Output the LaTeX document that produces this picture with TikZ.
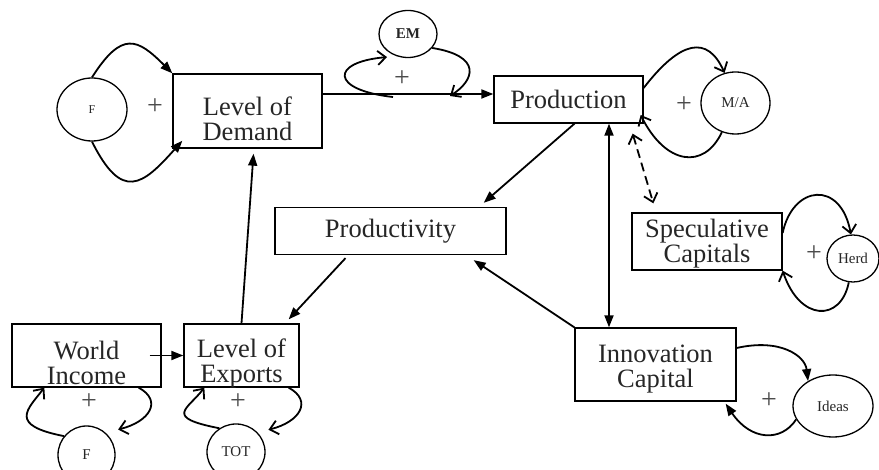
\documentclass[tikz,border=0pt]{standalone}
\usepackage{fontspec}
\setmainfont{Liberation Serif}
\usetikzlibrary{arrows.meta}
\usetikzlibrary{shapes.geometric}

\begin{document}
\begin{tikzpicture}[x=1pt, y=-1pt,
		box/.style={draw, line width=1.3pt, inner sep=0pt, align=center, text=black!85, font=\fontsize{26.5}{25}\selectfont},
		caption/.style={inner sep=0pt, align=center, text=black!85, font=\fontsize{26.5}{25}\selectfont},
		bubble/.style={draw, ellipse, line width=1.3pt, inner sep=0pt, text=black!85, font=\fontsize{15}{15}\selectfont},
		plus/.style={inner sep=0pt, text=black!70, font=\fontsize{28}{28}\selectfont},
		link/.style={line width=1.8pt, >={Triangle[length=12pt,width=9pt]}, ->},
		feedback/.style={line width=1.8pt, >={Straight Barb[length=8pt,width=14pt]}, ->}]
				\useasboundingbox (0,0) rectangle (879,470);

				\node[box, minimum width=149pt, minimum height=74pt, label={[caption, name=demandText, yshift=-8pt]center:{Level of\\Demand}}] (demand) at (247.5,111) {};
				\node[box, minimum width=149pt, minimum height=47pt] (prod) at (568.5,99.5) {Production};
				\node[box, minimum width=231pt, minimum height=47pt] (prodty) at (390.5,231) {Productivity};
				\node[box, minimum width=150pt, minimum height=57pt, label={[caption, name=specText, yshift=-2pt]center:{Speculative\\Capitals}}] (spec) at (707,241.5) {};
				\node[box, minimum width=149pt, minimum height=63pt, label={[caption, name=worldText, yshift=-7pt]center:{World\\Income}}] (world) at (86.5,355.5) {};
				\node[box, minimum width=115pt, minimum height=63pt, label={[caption, name=exportsText, yshift=-8pt]center:{Level of\\Exports}}] (exports) at (241.5,355.5) {};
				\node[box, minimum width=161pt, minimum height=73pt, label={[caption, name=innovText, yshift=-5pt]center:{Innovation\\Capital}}] (innov) at (655.5,364.5) {};

				\node[bubble, minimum width=70pt, minimum height=63pt, font=\fontsize{12}{12}\selectfont] (fL) at (92,109.5) {F};
				\node[bubble, minimum width=58pt, minimum height=47pt, font=\bfseries\fontsize{15}{15}\selectfont] (em) at (408,34) {EM};
				\node[bubble, minimum width=69pt, minimum height=62pt] (ma) at (735.5,103) {M/A};
				\node[bubble, minimum width=52pt, minimum height=47pt] (herd) at (853,258.5) {Herd};
				\node[bubble, minimum width=57pt, minimum height=58pt] (fB) at (86.5,455) {F};
				\node[bubble, minimum width=58pt, minimum height=56pt] (tot) at (236,452) {TOT};
				\node[bubble, minimum width=80pt, minimum height=62pt] (ideas) at (833,406) {Ideas};

				\node[plus] (plusDemand) at (155,107) {+};
				\node[plus] (plusEM) at (402,79) {+};
				\node[plus] (plusMA) at (684,105) {+};
				\node[plus] (plusHerd) at (814,254) {+};
				\node[plus] (plusWorld) at (89,402) {+};
				\node[plus] (plusExports) at (238,402) {+};
				\node[plus] (plusIdeas) at (769,401) {+};

				\coordinate (emIn) at (393,97);
				\coordinate (emOut) at (450,96);

				\draw[link] (fL.north) .. controls +(30,-47) and +(-35,-35) .. (demand.north west);
				\draw[link] (fL.south) .. controls +(30,60) and +(-40,45) .. ([xshift=10pt,yshift=8pt]demand.south west);
				\draw[link] ([yshift=17pt]demand.east) -- ([yshift=5.5pt]prod.west);
				\draw[feedback] (emIn) .. controls +(-63,-7) and +(-57,5) .. ([yshift=-6pt]em.south west);
				\draw[feedback] (em.-30) .. controls +(50,8) and +(25,-16) .. (emOut);

				\draw[link] ([xshift=6pt]prod.south) -- ([xshift=-23pt,yshift=4pt]prodty.north east);
				\draw[link] ([xshift=-45pt,yshift=-3pt]prodty.south) -- ([xshift=-11pt,yshift=4pt]exports.north east);
				\draw[link] (innov.north west) -- ([xshift=-33pt,yshift=-5pt]prodty.south east);
				\draw[link, <->] ([xshift=40.5pt]prod.south) -- ([xshift=-46.5pt]innov.north);
				\draw[feedback, <->, dash pattern=on 9pt off 5pt] ([xshift=-11pt,yshift=-10pt]prod.south east) -- ([xshift=22pt,yshift=9pt]spec.north west);

				\draw[feedback] ([yshift=11.5pt]prod.east) .. controls +(37,-48) and +(-17,-38) .. (ma.110);
				\draw[feedback] (ma.-115) .. controls +(-18,38) and +(25,50) .. ([xshift=-3pt,yshift=-15.5pt]prod.east);
				\draw[feedback] ([yshift=8.5pt]spec.east) .. controls +(10,-48) and +(-10,-55) .. (herd.95);
				\draw[feedback] (herd.-100) .. controls +(-8,40) and +(17,51) .. (spec.south east);
				\draw[link] ([yshift=16.5pt]innov.east) .. controls +(44,-10) and +(-3,-25) .. (ideas.135);
				\draw[link] (ideas.200) .. controls +(-15,23) and +(25,37) .. ([xshift=-11pt,yshift=-2pt]innov.south east);

				\draw[link] ([xshift=-12pt]world.east) -- (exports.west);
				\draw[feedback] (fB.140) .. controls +(-56,-11) and +(-17,22) .. ([xshift=33pt]world.south west);
				\draw[feedback] ([xshift=-23pt]world.south east) .. controls +(24,13) and +(32,-8) .. ([xshift=11pt,yshift=4.5pt]fB.north east);
				\draw[feedback] (tot.125) .. controls +(-56,-11) and +(-17,22) .. ([xshift=21pt]exports.south west);
				\draw[feedback] ([xshift=-11pt]exports.south east) .. controls +(24,13) and +(32,-8) .. ([xshift=11.5pt,yshift=2pt]tot.north east);
				\draw[link] (exports.north) -- ([xshift=6pt,yshift=-5pt]demand.south);
			\end{tikzpicture}
\end{document}
